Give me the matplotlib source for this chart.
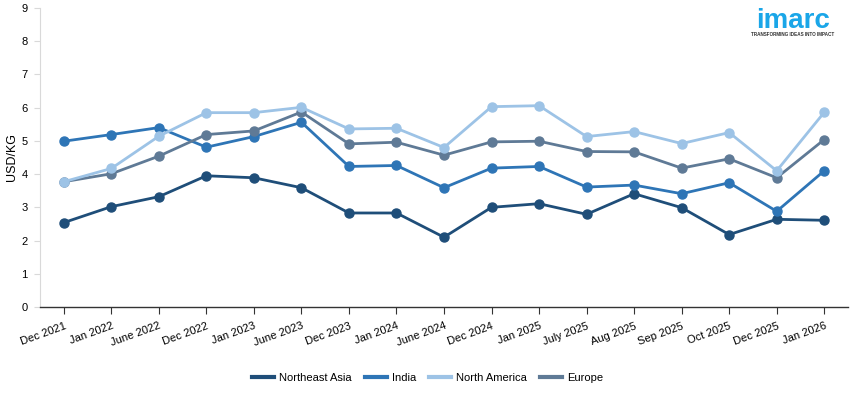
import numpy as np
import matplotlib.pyplot as plt

plt.rcParams['font.family'] = ['Liberation Sans', 'DejaVu Sans']

months = ["Dec 2021", "Jan 2022", "June 2022", "Dec 2022", "Jan 2023", "June 2023",
          "Dec 2023", "Jan 2024", "June 2024", "Dec 2024", "Jan 2025", "July 2025",
          "Aug 2025", "Sep 2025", "Oct 2025", "Dec 2025", "Jan 2026"]

northeast_asia = [2.54, 3.02, 3.32, 3.95, 3.89, 3.59, 2.83, 2.83, 2.10, 3.00, 3.11,
                  2.79, 3.41, 2.99, 2.18, 2.64, 2.61]
india = [4.99, 5.19, 5.40, 4.81, 5.13, 5.56, 4.23, 4.26, 3.59, 4.18, 4.23,
         3.61, 3.67, 3.41, 3.74, 2.88, 4.10]
north_america = [3.77, 4.17, 5.14, 5.85, 5.85, 6.01, 5.36, 5.38, 4.80, 6.03, 6.06,
                 5.13, 5.28, 4.92, 5.25, 4.10, 5.86]
europe = [3.77, 4.01, 4.54, 5.19, 5.30, 5.87, 4.91, 4.96, 4.57, 4.97, 4.99,
          4.68, 4.67, 4.18, 4.46, 3.89, 5.04]

# name, values, colour, draw order
series = [("Northeast Asia", northeast_asia, "#1f4e79", 3),
          ("India", india, "#2e75b6", 4),
          ("North America", north_america, "#9dc3e6", 6),
          ("Europe", europe, "#5f7a96", 5)]

fig = plt.figure(figsize=(8.55, 3.93), dpi=100)
ax = fig.add_axes([40/855, 1-307/393, 808/855, 299/393])

x = np.arange(len(months))
for name, vals, col, z in series:
    ax.plot(x, vals, color=col, lw=2.0, marker='o', ms=6.5, label=name, zorder=z)

ax.set_xlim(-0.5, len(months) - 0.5)
ax.set_ylim(0, 9)
ax.set_yticks(range(10))
ax.set_xticks(x)
ax.set_xticklabels(months, rotation=20, ha='right', rotation_mode='anchor', fontsize=8)
ax.tick_params(axis='y', labelsize=8, length=4, color='#d9d9d9', pad=5)
ax.tick_params(axis='x', length=5, color='#333333', pad=5)

for s in ['top', 'right']:
    ax.spines[s].set_visible(False)
ax.spines['left'].set_color('#d9d9d9')
ax.spines['bottom'].set_color('#333333')
ax.spines['bottom'].set_linewidth(1.0)

ax.set_ylabel("USD/KG", fontsize=9, labelpad=2)

fig.legend(loc='center', bbox_to_anchor=(0.5, 1-378/393), ncol=4, frameon=False,
           fontsize=8, handlelength=2.0, handletextpad=0.4, columnspacing=1.2)
for h in fig.legends[0].legend_handles:
    h.set_marker('')
    h.set_linewidth(3)

# logo
fig.text(793/855, 1-21/393, "imarc", color='#1aa6e8', fontsize=20, fontweight='bold',
         ha='center', va='center')
fig.text(793/855, 1-35/393, "TRANSFORMING IDEAS INTO IMPACT", color='#333333', fontsize=3.3,
         fontweight='bold', ha='center', va='center')

fig.savefig("out.png", dpi=100)
